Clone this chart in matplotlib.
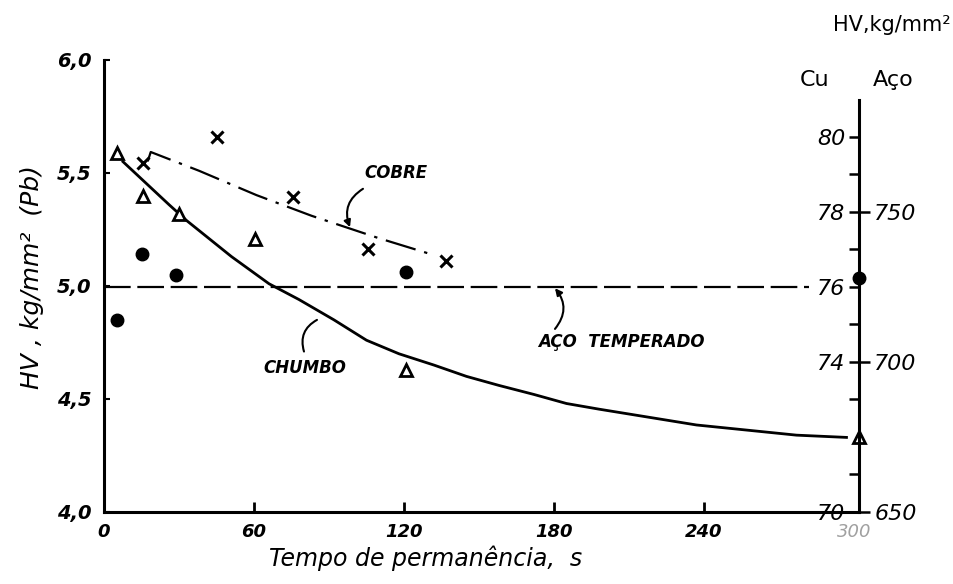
import matplotlib
matplotlib.use("Agg")
import matplotlib.pyplot as plt

# Chumbo (Pb) - triangulos, escala da esquerda (HV, kg/mm2)
pb_t = [5.1, 15.5, 30.1, 60.4, 121, 302]
pb_hv = [5.59, 5.40, 5.32, 5.21, 4.63, 4.33]

# curva desenhada do chumbo
pb_curve_t = [7.6, 26, 33, 51, 66, 78, 92, 105, 118, 132, 145, 158, 172, 185, 198, 237, 277, 297]
pb_curve_hv = [5.55, 5.36, 5.29, 5.13, 5.01, 4.94, 4.85, 4.76, 4.70, 4.65, 4.60, 4.56,
               4.52, 4.48, 4.455, 4.385, 4.34, 4.33]

# Cobre - cruzes, escala Cu
cu_t = [15.7, 45.3, 75.5, 105.7, 137]
cu_hv = [79.3, 80.0, 78.4, 77.0, 76.7]
cu_line_t = [17.5, 18.7, 38, 61, 83, 110, 132]
cu_line_hv = [79.35, 79.6, 79.1, 78.45, 77.9, 77.3, 76.85]

# Aco temperado - pontos, escala Aco
aco_t = [5.3, 15.1, 28.8, 120.8, 302]
aco_hv = [714, 736, 729, 730, 728]
aco_ref_t = [0, 282]
aco_ref_hv = [725, 725]

x_ticks = [0, 60, 120, 180, 240, 300]
pb_ticks = [4.0, 4.5, 5.0, 5.5, 6.0]
pb_labels = ['4,0', '4,5', '5,0', '5,5', '6,0']
cu_ticks = [70, 74, 76, 78, 80]
cu_minor = [71, 73, 75, 77, 79]
aco_ticks = [650, 700, 750]

# relacao entre as escalas (Pb 4..6)
CU_PER_PB = 6.027
ACO_PER_CU = 12.5

fig = plt.figure(figsize=(9.54, 5.84), dpi=100)
ax = fig.add_axes([0.109, 0.1233, 0.7914, 0.774])
ax.set_xlim(0, 302)
ax.set_ylim(4, 6)
ax.spines['top'].set_visible(False)
ax.spines['right'].set_visible(False)
ax.spines['left'].set_linewidth(2.2)
ax.spines['bottom'].set_linewidth(2.2)

ax.set_xticks(x_ticks, [str(t) for t in x_ticks])
ax.tick_params(axis='x', direction='in', length=7, width=2, pad=8, labelsize=13)
for lbl in ax.get_xticklabels():
    lbl.set_fontstyle('italic')
    lbl.set_fontweight('bold')
ax.get_xticklabels()[-1].set_color('#a0a0a0')
ax.get_xticklabels()[-1].set_fontweight('normal')
ax.xaxis.get_major_ticks()[-1].tick1line.set_visible(False)

ax.set_yticks(pb_ticks, pb_labels)
ax.tick_params(axis='y', direction='in', length=4, width=1.5, pad=9, labelsize=14)
for lbl in ax.get_yticklabels():
    lbl.set_fontstyle('italic')
    lbl.set_fontweight('bold')

ax.set_ylabel('HV , kg/mm²  (Pb)', fontsize=18, fontstyle='italic')
ax.yaxis.set_label_coords(-0.079, 0.52)
ax.set_xlabel('Tempo de permanência,  s', fontsize=17, fontstyle='italic')
ax.xaxis.set_label_coords(0.4265, -0.075)

# chumbo
ax.plot(pb_curve_t, pb_curve_hv, color='k', lw=2.0)
ax.plot(pb_t, pb_hv, linestyle='none', marker='^', ms=9, mfc='white', mec='k', mew=2,
        clip_on=False, zorder=5)

# escala do cobre (lado de dentro do eixo direito)
ax_cu = ax.twinx()
ax_cu.set_ylim(70, 70 + 2 * CU_PER_PB)
for s in ['top', 'left', 'bottom']:
    ax_cu.spines[s].set_visible(False)
ax_cu.spines['right'].set_linewidth(2.2)
ax_cu.spines['right'].set_bounds(70, 81)
ax_cu.set_yticks(cu_ticks, [str(t) for t in cu_ticks])
ax_cu.set_yticks(cu_minor, minor=True)
ax_cu.tick_params(axis='y', which='both', direction='in', length=7, width=1.8,
                  pad=-10, labelsize=16)
for lbl in ax_cu.get_yticklabels():
    lbl.set_horizontalalignment('right')
    lbl.set_fontstyle('italic')

ax_cu.plot(cu_line_t, cu_line_hv, color='k', lw=1.6, dashes=(14, 4, 1.5, 4))
ax_cu.plot(cu_t, cu_hv, linestyle='none', marker='x', ms=8.5, mec='k', mew=2.2,
           clip_on=False)

# escala do aco (lado de fora)
ax_aco = ax.twinx()
ax_aco.set_ylim(650, 650 + 2 * CU_PER_PB * ACO_PER_CU)
for s in ax_aco.spines.values():
    s.set_visible(False)
ax_aco.set_yticks(aco_ticks, [str(t) for t in aco_ticks])
ax_aco.tick_params(axis='y', direction='out', length=8, width=1.8, pad=3, labelsize=16)
for lbl in ax_aco.get_yticklabels():
    lbl.set_fontstyle('italic')

ax_aco.plot(aco_ref_t, aco_ref_hv, color='k', lw=1.6, dashes=(12, 3))
ax_aco.plot(aco_t, aco_hv, linestyle='none', marker='o', ms=9, mfc='k', mec='k',
            clip_on=False, zorder=5)

# anotacoes
arrow = dict(arrowstyle='-|>', color='k', lw=1.5, mutation_scale=10,
             shrinkA=0, shrinkB=0)
ax.text(116.8, 5.50, 'COBRE', fontsize=12, fontstyle='italic', fontweight='bold',
        ha='center', va='center')
ax.annotate('', xy=(98.4, 5.26), xytext=(103.6, 5.43),
            arrowprops=dict(arrow, connectionstyle='arc3,rad=0.4'))
ax.text(80.4, 4.637, 'CHUMBO', fontsize=12, fontstyle='italic', fontweight='bold',
        ha='center', va='center')
ax.annotate('', xy=(85.2, 4.85), xytext=(80.0, 4.71),
            arrowprops=dict(arrow, arrowstyle='-', connectionstyle='arc3,rad=-0.4'))
ax.text(206.8, 4.752, 'AÇO  TEMPERADO', fontsize=12, fontstyle='italic', fontweight='bold',
        ha='center', va='center')
ax.annotate('', xy=(180.4, 4.99), xytext=(180.4, 4.81),
            arrowprops=dict(arrow, connectionstyle='arc3,rad=0.4'))

# titulos das escalas da direita
fig.text(892 / 954, 1 - 25 / 584, 'HV,kg/mm²', fontsize=15, ha='center', va='center')
fig.text(815 / 954, 1 - 80 / 584, 'Cu', fontsize=16, ha='center', va='center')
fig.text(893 / 954, 1 - 80 / 584, 'Aço', fontsize=16, ha='center', va='center')

fig.savefig('out.png', dpi=100, facecolor='white')
